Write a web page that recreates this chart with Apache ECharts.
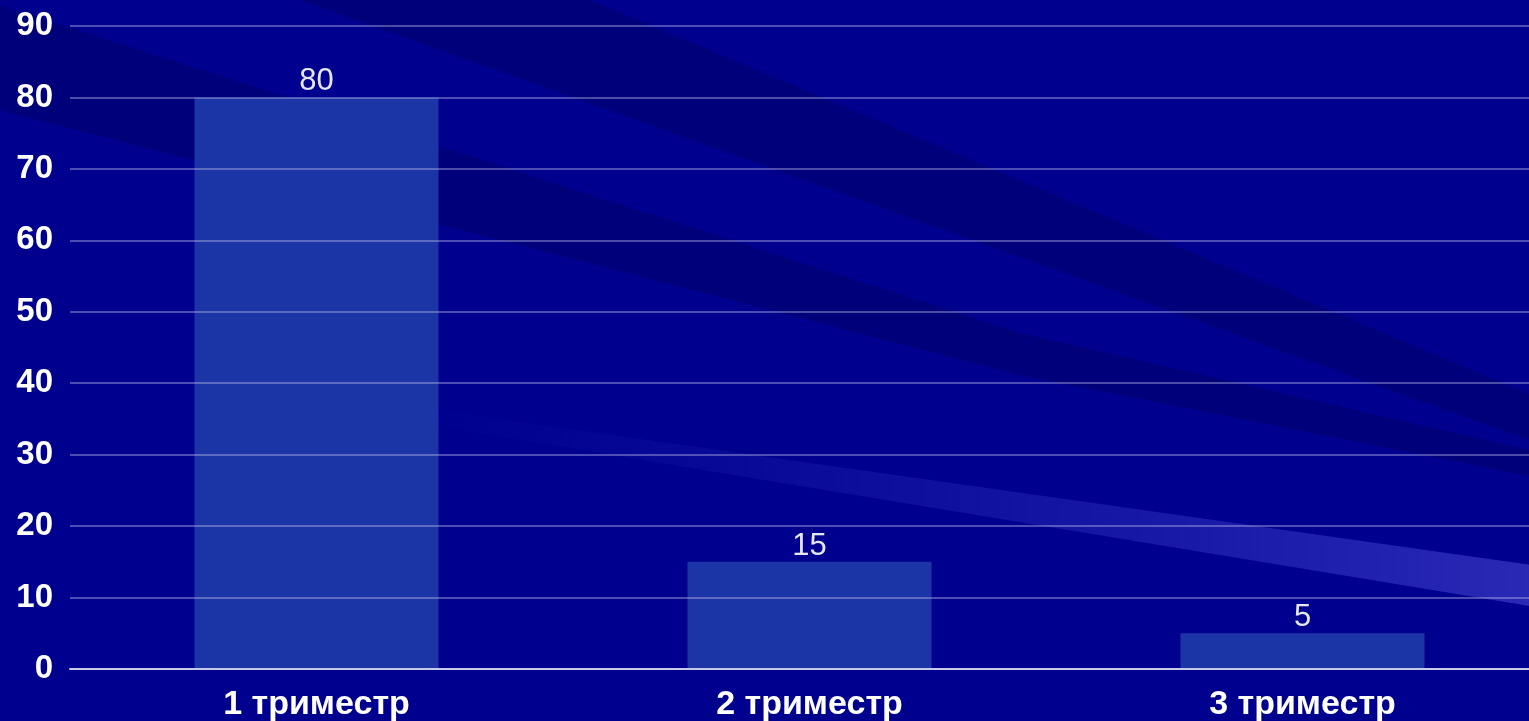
<!DOCTYPE html>
<html>
<head>
<meta charset="utf-8">
<title>триместр</title>
<script src="https://cdn.jsdelivr.net/npm/echarts@6/dist/echarts.min.js"></script>
<style>
  html, body { margin: 0; padding: 0; background: #00008c; overflow: hidden; }
  #chart { width: 1560px; height: 721px; }
</style>
</head>
<body>
<div id="chart"></div>
<script>
// данные
const categories = ['1 триместр', '2 триместр', '3 триместр'];
const values = [80, 15, 5];
const yTicks = [0, 10, 20, 30, 40, 50, 60, 70, 80, 90];

const chart = echarts.init(document.getElementById('chart'));

// фон слайда: тёмные диагональные полосы
const bandDark = '#00007a';
const background = [
  { type: 'rect', shape: { x: 0, y: 0, width: 1560, height: 721 }, style: { fill: '#00008e' } },
  { type: 'polygon', shape: { points: [[300, 0], [590, 0], [1560, 407], [1560, 451], [1020, 257]] }, style: { fill: bandDark } },
  { type: 'polygon', shape: { points: [[0, 5], [0, 110], [1020, 375], [1560, 482], [1560, 457], [1020, 333]] }, style: { fill: bandDark } },
  {
    type: 'polygon',
    shape: { points: [[400, 405], [1560, 569], [1560, 611], [400, 420]] },
    style: {
      fill: new echarts.graphic.LinearGradient(0, 0, 1, 0, [
        { offset: 0, color: 'rgba(40,40,190,0)' },
        { offset: 1, color: 'rgba(60,60,200,0.7)' }
      ])
    }
  }
].map(function (g) { g.z = -100; g.silent = true; return g; });

const option = {
  backgroundColor: 'transparent',
  animation: false,
  graphic: background,
  grid: { left: 70, right: 11, top: 26, bottom: 52, containLabel: false, outerBoundsMode: 'none' },
  xAxis: {
    type: 'category',
    data: categories,
    z: 5,
    axisTick: { show: false },
    axisLine: { lineStyle: { color: '#c8c8e8', width: 2 } },
    axisLabel: {
      color: '#ffffff',
      fontFamily: 'Liberation Sans',
      fontWeight: 'bold',
      fontSize: 34,
      margin: 19
    }
  },
  yAxis: {
    type: 'value',
    min: yTicks[0],
    max: yTicks[yTicks.length - 1],
    interval: 10,
    z: 5,
    axisLine: { show: false },
    axisTick: { show: false },
    splitLine: { lineStyle: { color: 'rgba(170,170,225,0.45)', width: 2 } },
    axisLabel: {
      color: '#ffffff',
      fontFamily: 'Liberation Sans',
      fontWeight: 'bold',
      fontSize: 33,
      margin: 17
    }
  },
  series: [{
    type: 'bar',
    data: values,
    barWidth: 244,
    itemStyle: { color: '#1c35a6' },
    label: {
      show: true,
      position: 'top',
      distance: 0,
      color: '#e6e6ee',
      fontFamily: 'Liberation Sans',
      fontSize: 31
    }
  }]
};

chart.setOption(option);
</script>
</body>
</html>
